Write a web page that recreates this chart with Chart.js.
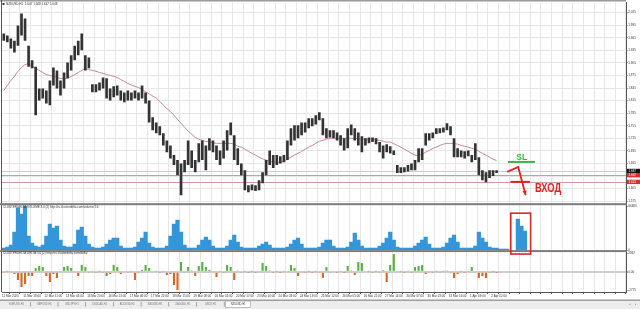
<!DOCTYPE html>
<html>
<head>
<meta charset="utf-8">
<script src="https://cdn.jsdelivr.net/npm/chart.js@4/dist/chart.umd.min.js"></script>
<style>
  html, body { margin: 0; padding: 0; background: #fff; }
  canvas { display: block; }
</style>
</head>
<body>
<canvas id="mt4" width="640" height="309"></canvas>
<script>
// H1 bars, six bars of this chart per time label, time labels every 17 hours
const N_CATS = 176;
const CATS_PER_LABEL = 6;
const timeLabels = [
  '11 Mar 2020', '11 Mar 18:00', '12 Mar 11:00', '13 Mar 04:00', '13 Mar 20:00', '16 Mar 13:00',
  '17 Mar 06:00', '17 Mar 22:00', '18 Mar 15:00', '19 Mar 08:00', '20 Mar 01:00', '20 Mar 17:00',
  '23 Mar 10:00', '24 Mar 03:00', '24 Mar 19:00', '25 Mar 12:00', '26 Mar 05:00', '26 Mar 21:00',
  '27 Mar 14:00', '30 Mar 07:00', '30 Mar 23:00', '31 Mar 16:00', '1 Apr 09:00', '2 Apr 02:00'
];

const priceTicks = [2.025, 1.995, 1.965, 1.935, 1.905, 1.875, 1.845, 1.815, 1.785, 1.755,
  1.725, 1.695, 1.665, 1.635, 1.605, 1.575];

const priceHigh = [
  1.975,1.970,1.963,1.958,1.994,2.023,2.011,1.946,1.911,1.896,
  1.844,1.844,1.839,1.863,1.894,1.887,1.863,1.882,1.906,1.923,
  1.946,1.958,1.975,1.923,1.918,1.854,1.854,1.858,1.870,1.868,
  1.844,1.849,1.851,1.839,1.834,1.839,1.834,1.839,1.834,1.851,
  1.834,1.815,1.775,1.763,1.754,1.737,1.720,1.708,1.685,1.673,
  1.665,1.673,1.720,1.696,1.673,1.713,1.720,1.708,1.725,1.720,
  1.708,1.696,1.720,1.744,1.763,1.732,1.701,1.665,1.649,1.613,
  1.615,1.613,1.625,1.644,1.673,1.696,1.685,1.685,1.682,1.685,
  1.720,1.749,1.756,1.756,1.763,1.763,1.773,1.773,1.780,1.787,
  1.773,1.749,1.744,1.744,1.739,1.732,1.725,1.749,1.758,1.749,
  1.739,1.730,1.725,1.727,1.727,1.725,1.716,1.708,1.711,1.706,
  1.696,1.661,1.656,1.656,1.661,1.665,1.673,1.701,1.701,1.737,
  1.737,1.739,1.749,1.749,1.751,1.761,1.754,1.725,1.701,1.696,
  1.694,1.696,1.685,1.713,1.680,1.649,1.644,1.649,1.649,1.649
];
const priceLow = [
  1.958,1.954,1.939,1.930,1.946,1.970,1.958,1.896,1.892,1.780,
  1.815,1.820,1.808,1.804,1.851,1.844,1.827,1.844,1.868,1.887,
  1.911,1.923,1.935,1.887,1.892,1.835,1.835,1.839,1.844,1.820,
  1.815,1.823,1.827,1.815,1.811,1.815,1.815,1.820,1.815,1.820,
  1.808,1.763,1.744,1.737,1.732,1.708,1.692,1.677,1.661,1.637,
  1.589,1.644,1.661,1.654,1.644,1.668,1.673,1.649,1.696,1.692,
  1.673,1.661,1.677,1.696,1.732,1.673,1.661,1.637,1.601,1.596,
  1.601,1.599,1.601,1.618,1.637,1.661,1.654,1.661,1.665,1.668,
  1.673,1.708,1.720,1.725,1.732,1.739,1.749,1.754,1.758,1.768,
  1.732,1.725,1.727,1.725,1.720,1.708,1.696,1.701,1.732,1.720,
  1.708,1.692,1.708,1.713,1.716,1.711,1.692,1.677,1.692,1.689,
  1.685,1.642,1.642,1.644,1.646,1.649,1.649,1.668,1.673,1.708,
  1.720,1.725,1.735,1.737,1.739,1.744,1.732,1.680,1.680,1.680,
  1.677,1.682,1.668,1.673,1.637,1.625,1.620,1.630,1.635,1.642
];
const maLine = [
  1.839,1.851,1.863,1.873,1.885,1.894,1.901,1.903,1.896,1.892,
  1.887,1.882,1.877,1.875,1.873,1.870,1.868,1.867,1.868,1.873,
  1.877,1.882,1.887,1.892,1.889,1.887,1.885,1.882,1.880,1.877,
  1.875,1.873,1.870,1.865,1.861,1.856,1.852,1.849,1.846,1.842,
  1.836,1.831,1.826,1.821,1.813,1.804,1.796,1.789,1.780,1.770,
  1.761,1.751,1.742,1.735,1.727,1.723,1.720,1.718,1.716,1.714,
  1.713,1.713,1.713,1.713,1.713,1.711,1.706,1.704,1.699,1.694,
  1.689,1.685,1.680,1.676,1.673,1.670,1.669,1.668,1.668,1.670,
  1.675,1.680,1.685,1.689,1.694,1.699,1.704,1.708,1.713,1.718,
  1.720,1.723,1.725,1.725,1.725,1.725,1.725,1.725,1.725,1.725,
  1.724,1.723,1.723,1.723,1.723,1.722,1.720,1.718,1.716,1.716,
  1.712,1.708,1.704,1.699,1.694,1.689,1.685,1.683,1.687,1.692,
  1.696,1.701,1.704,1.708,1.711,1.713,1.713,1.712,1.711,1.708,
  1.706,1.704,1.701,1.699,1.694,1.689,1.685,1.680,1.675,1.672
];

const volume = [
  3000,4500,7600,27200,63500,54400,66500,21200,10600,6000,
  4500,7600,21200,39300,33200,36300,15100,6000,4500,4500,
  9100,30200,34800,21200,9100,4500,3000,3000,4500,9100,
  15100,18100,18100,6000,3000,3000,3000,4500,12100,18100,
  27200,10600,4500,3000,3000,3000,6000,21200,39300,45300,
  27200,7600,3000,3000,3000,7600,15100,19600,15100,6000,
  3000,3000,3000,6000,15100,22700,12100,4500,3000,3000,
  3000,3000,6000,9100,12100,7600,3000,3000,3000,3000,
  4500,9100,15100,18100,9100,3000,3000,3000,3000,4500,
  10600,15100,15100,6000,3000,3000,3000,4500,12100,25700,
  15100,6000,3000,3000,3000,3000,6000,10600,18100,27200,
  15100,4500,3000,3000,3000,3000,6000,10600,15100,19600,
  9100,3000,3000,3000,4500,10600,18100,22700,12100,3000,
  3000,3000,3000,6000,27200,18100,12100,4500,3000,3000,
  1500,1500,1500,null,null,46800,36300,28700
];
const volTicks = [0, 66483];

const delta = [
  -120,80,-150,-335,-1250,-2318,-1860,-640,-640,580,
  885,732,-640,-1555,-335,-946,150,732,885,580,
  -150,-640,1037,732,-183,120,-100,90,-130,-640,
  -335,1037,732,-335,150,-180,120,-1250,-200,300,
  1037,580,-150,100,-100,120,-488,-335,-2013,-2775,
  1495,-183,732,200,-640,885,1495,732,300,-150,
  -793,120,-100,1037,732,-1250,200,-120,100,-90,
  80,-100,150,1342,885,200,-100,90,-80,120,
  -150,1037,580,-640,150,-100,80,-90,100,-120,
  -946,732,-183,150,-100,120,-90,885,200,-488,
  1495,1342,-150,100,-100,90,-183,250,-1555,1037,
  2715,-150,100,-80,120,-100,732,885,1037,-335,
  150,-100,90,-120,100,200,-200,-946,-335,120,
  -100,150,732,-150,-946,-640,-946,-120,80,-60
];
const deltaTicks = [-2775, 0, 2867];

// price lines and tags
const lastPrice = 1.647;
const levelPrices = [1.637, 1.621];

// hand drawn notes, in (bar index, value) units
const slLine = [[142.2, 1.6686], [149.8, 1.6686]];
const slLabel = [146.1, 1.680];
const arrowPath = [[142.0, 1.6448], [145.1, 1.6567], [147.2, 1.5893]];
const entryLine = [[142.9, 1.621], [148.4, 1.621]];
const entryLabel = [149.8, 1.605];
const volBox = [[143.0, 55900], [148.6, -6000]];

const tabNames = ['EURUSD,H1', 'GBPUSD,H1', 'USDJPY,H1', 'USDCAD,H1', 'AUDUSD,H1',
  'XAUUSD,H1', 'XAGUSD,H1', 'USDX,H1', 'NZDUSD,H1'];

const categories = Array.from({ length: N_CATS }, (_, i) =>
  i % CATS_PER_LABEL === 0 && timeLabels[i / CATS_PER_LABEL] ? timeLabels[i / CATS_PER_LABEL] : '');

const tiny = { family: 'Liberation Sans', size: 3 };

const overlay = {
  id: 'overlay',
  beforeDraw(chart) {
    const ctx = chart.ctx;
    ctx.save();
    ctx.fillStyle = '#fff';
    ctx.fillRect(0, 0, chart.width, chart.height);
    ctx.restore();
  },
  beforeDatasetsDraw(chart) {
    const { ctx, chartArea: a, scales: s } = chart;
    ctx.save();
    ctx.lineWidth = 1;
    ctx.strokeStyle = '#c6cfdc';
    let y = Math.round(s.y.getPixelForValue(lastPrice)) + 0.5;
    ctx.beginPath(); ctx.moveTo(a.left, y); ctx.lineTo(a.right, y); ctx.stroke();
    ctx.strokeStyle = '#d39a9a';
    levelPrices.forEach(p => {
      const yy = Math.round(s.y.getPixelForValue(p)) + 0.5;
      ctx.beginPath(); ctx.moveTo(a.left, yy); ctx.lineTo(a.right, yy); ctx.stroke();
    });
    ctx.restore();
  },
  afterDraw(chart) {
    const { ctx, chartArea: a, scales: s } = chart;
    const px = v => s.x.getPixelForValue(v);
    ctx.save();

    // frame and pane separators
    ctx.fillStyle = '#9a9a9a';
    ctx.fillRect(0, 0, a.right, 1.5);
    ctx.fillStyle = '#555';
    ctx.fillRect(1, 0, 1, a.bottom);
    ctx.fillStyle = '#7d7d7d';
    ctx.fillRect(0, s.vol.top - 1, a.right + 1, 2);
    ctx.fillRect(0, s.delta.top - 1, a.right + 1, 2);

    // pane titles
    ctx.font = '3px "Liberation Sans"';
    ctx.fillStyle = '#333';
    ctx.textBaseline = 'middle';
    ctx.textAlign = 'left';
    ctx.fillRect(2.5, 3, 2, 2);
    ctx.fillText('NZDUSD,H1  1.647 1.648 1.647 1.648', 6, 4.2);
    ctx.fillText('CLUSTERDELTA VOLUME 3.0 (2) http://ru.clusterdelta.com/volume/ 16', 3, s.vol.top + 3);
    ctx.fillText('CLUSTERDELTA DELTA 3.0 (2) http://ru.clusterdelta.com/delta/', 3, s.delta.top + 2.5);

    // price tags on the axis
    const tag = (p, bg) => {
      const y = s.y.getPixelForValue(p);
      ctx.fillStyle = bg;
      ctx.fillRect(a.right + 1, y - 2.2, 13, 4.4);
      ctx.fillStyle = '#fff';
      ctx.fillText(p.toFixed(3), a.right + 2.5, y);
    };
    tag(lastPrice, '#111');
    levelPrices.forEach(p => tag(p, '#d63030'));

    // SL note
    ctx.strokeStyle = '#3fb342';
    ctx.lineWidth = 2;
    ctx.beginPath();
    ctx.moveTo(px(slLine[0][0]), s.y.getPixelForValue(slLine[0][1]));
    ctx.lineTo(px(slLine[1][0]), s.y.getPixelForValue(slLine[1][1]));
    ctx.stroke();
    ctx.fillStyle = '#3fb342';
    ctx.font = 'bold 8.5px "Liberation Sans"';
    ctx.textAlign = 'center';
    ctx.fillText('SL', px(slLabel[0]), s.y.getPixelForValue(slLabel[1]));

    // entry arrow
    ctx.strokeStyle = '#e02222';
    ctx.fillStyle = '#e02222';
    ctx.lineWidth = 1.8;
    ctx.beginPath();
    arrowPath.forEach(([c, p], i) => {
      const X = px(c), Y = s.y.getPixelForValue(p);
      if (i === 0) ctx.moveTo(X, Y); else ctx.lineTo(X, Y);
    });
    ctx.stroke();
    const [c1, p1] = arrowPath[arrowPath.length - 2];
    const [c2, p2] = arrowPath[arrowPath.length - 1];
    const ex = px(c2), ey = s.y.getPixelForValue(p2);
    const ang = Math.atan2(ey - s.y.getPixelForValue(p1), ex - px(c1));
    ctx.beginPath();
    ctx.moveTo(ex, ey);
    ctx.lineTo(ex - 5 * Math.cos(ang - 0.45), ey - 5 * Math.sin(ang - 0.45));
    ctx.lineTo(ex - 5 * Math.cos(ang + 0.45), ey - 5 * Math.sin(ang + 0.45));
    ctx.closePath();
    ctx.fill();
    ctx.lineWidth = 2;
    ctx.beginPath();
    ctx.moveTo(px(entryLine[0][0]), s.y.getPixelForValue(entryLine[0][1]));
    ctx.lineTo(px(entryLine[1][0]), s.y.getPixelForValue(entryLine[1][1]));
    ctx.stroke();
    ctx.save();
    ctx.translate(px(entryLabel[0]), s.y.getPixelForValue(entryLabel[1]));
    ctx.scale(0.78, 1);
    ctx.font = 'bold 12px "Liberation Sans"';
    ctx.textAlign = 'left';
    ctx.fillText('ВХОД', 0, 0);
    ctx.restore();

    // box round the last volume
    ctx.strokeStyle = '#d42a2a';
    ctx.lineWidth = 1.6;
    const bx0 = px(volBox[0][0]), bx1 = px(volBox[1][0]);
    const by0 = s.vol.getPixelForValue(volBox[0][1]), by1 = s.vol.getPixelForValue(volBox[1][1]);
    ctx.strokeRect(bx0, by0, bx1 - bx0, by1 - by0);

    // symbol tabs
    const ty = a.bottom + 7.5;
    ctx.fillStyle = '#ededed';
    ctx.fillRect(0, ty, chart.width, chart.height - ty);
    ctx.fillStyle = '#a0a0a0';
    ctx.fillRect(0, ty, chart.width, 1.5);
    ctx.font = '2.6px "Liberation Sans"';
    ctx.textAlign = 'center';
    tabNames.forEach((t, i) => {
      const cx = 16.5 + 27.7 * i;
      if (i === tabNames.length - 1) {
        ctx.fillStyle = '#fff';
        ctx.fillRect(cx - 12.5, ty + 1.5, 25, 6.5);
        ctx.strokeStyle = '#999';
        ctx.lineWidth = 0.6;
        ctx.strokeRect(cx - 12.5, ty + 1.5, 25, 6.5);
      } else {
        ctx.fillStyle = '#777';
        ctx.fillRect(cx + 13.5, ty + 2.5, 0.6, 4.5);
      }
      ctx.fillStyle = i === tabNames.length - 1 ? '#333' : '#777';
      ctx.fillText(t, cx, ty + 4.8);
    });
    ctx.fillStyle = '#888';
    ctx.fillText('◂', 630, ty + 4.8);
    ctx.fillText('▸', 636, ty + 4.8);
    ctx.restore();
  }
};

const axisColor = '#555';
const gridColor = '#e7e7e7';

new Chart(document.getElementById('mt4'), {
  type: 'bar',
  data: {
    labels: categories,
    datasets: [
      {
        type: 'line',
        data: maLine,
        yAxisID: 'y',
        borderColor: 'rgb(196,140,140)',
        borderWidth: 1,
        pointRadius: 0,
        tension: 0,
        order: 2
      },
      {
        data: priceLow.map((lo, i) => [lo, priceHigh[i]]),
        yAxisID: 'y',
        backgroundColor: '#333',
        grouped: false,
        barPercentage: 0.75,
        categoryPercentage: 1,
        order: 1
      },
      {
        data: volume,
        yAxisID: 'vol',
        backgroundColor: 'rgb(52,150,218)',
        grouped: false,
        barPercentage: 1,
        categoryPercentage: 1
      },
      {
        data: delta,
        yAxisID: 'delta',
        backgroundColor: c => (c.raw >= 0 ? 'rgb(86,178,62)' : 'rgb(214,102,42)'),
        grouped: false,
        barPercentage: 0.6,
        categoryPercentage: 1
      }
    ]
  },
  options: {
    responsive: false,
    animation: false,
    events: [],
    layout: { padding: { left: 2, top: 2, right: 0, bottom: 10 } },
    plugins: { legend: { display: false }, tooltip: { enabled: false } },
    scales: {
      x: {
        type: 'category',
        offset: true,
        grid: { offset: true, color: gridColor, drawTicks: true, tickLength: 2, tickColor: axisColor },
        border: { display: true, color: axisColor },
        ticks: {
          autoSkip: false, maxRotation: 0, minRotation: 0, align: 'start', labelOffset: -1.7,
          padding: 0.5, font: tiny, color: '#333',
          callback(v) { return this.getLabelForValue(v); }
        },
        afterBuildTicks(scale) { scale.ticks = scale.ticks.filter(t => t.value % 3 === 0); },
        afterFit(scale) { scale.height = 7; }
      },
      y: {
        position: 'right',
        stack: 'panes',
        stackWeight: 202,
        min: 1.5678,
        max: 2.0488,
        grid: { color: gridColor, drawTicks: true, tickLength: 1.5, tickColor: axisColor },
        border: { display: true, color: axisColor },
        ticks: { autoSkip: false, padding: 0.8, font: tiny, color: '#333', callback: v => v.toFixed(3) },
        afterBuildTicks(scale) { scale.ticks = priceTicks.map(v => ({ value: v })); },
        afterFit(scale) { scale.width = 14; }
      },
      vol: {
        position: 'right',
        stack: 'panes',
        stackWeight: 47,
        min: -1511,
        max: 69505,
        grid: { drawOnChartArea: false, drawTicks: true, tickLength: 1.5, tickColor: axisColor },
        border: { display: true, color: axisColor },
        ticks: { autoSkip: false, padding: 0.8, font: tiny, color: '#333', callback: v => String(v) },
        afterBuildTicks(scale) { scale.ticks = volTicks.map(v => ({ value: v })); },
        afterFit(scale) { scale.width = 14; }
      },
      delta: {
        position: 'right',
        stack: 'panes',
        stackWeight: 41,
        min: -3080,
        max: 3172,
        grid: {
          color: c => (c.tick && c.tick.value === 0 ? '#cdcdcd' : 'rgba(0,0,0,0)'),
          lineWidth: c => (c.tick && c.tick.value === 0 ? 2 : 1),
          drawTicks: true, tickLength: 1.5, tickColor: axisColor
        },
        border: { display: true, color: axisColor },
        ticks: { autoSkip: false, padding: 0.8, font: tiny, color: '#333', callback: v => (v === 0 ? '0.00' : String(v)) },
        afterBuildTicks(scale) { scale.ticks = deltaTicks.map(v => ({ value: v })); },
        afterFit(scale) { scale.width = 14; }
      }
    }
  },
  plugins: [overlay]
});
</script>
</body>
</html>
